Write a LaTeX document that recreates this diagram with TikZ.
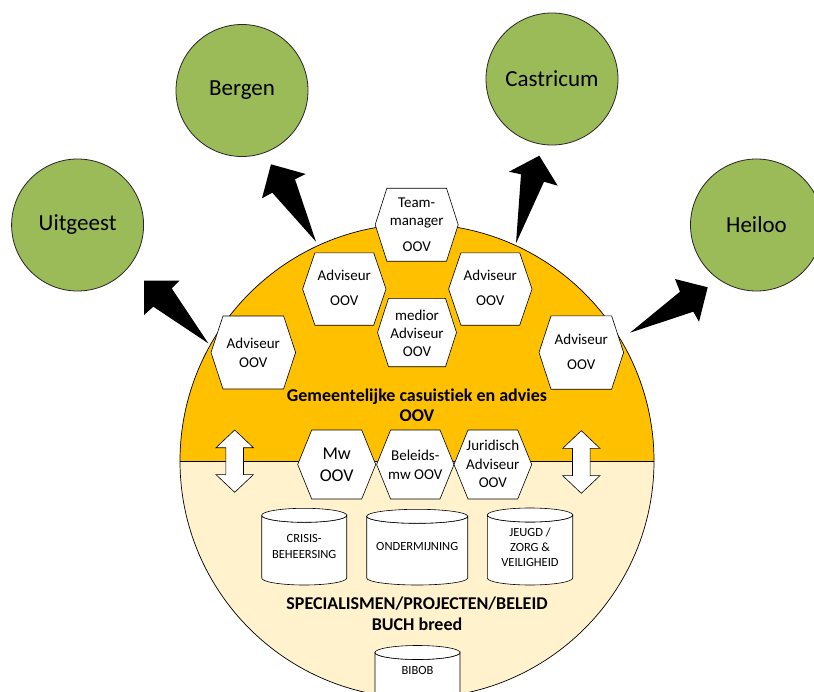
\documentclass[tikz,border=0pt]{standalone}
\usepackage{fontspec}
\setmainfont{Carlito}[Ligatures=NoCommon]
\usetikzlibrary{calc}
\definecolor{hubtop}{HTML}{FFC000}
\definecolor{hubbot}{HTML}{FFF2CC}
\definecolor{town}{HTML}{9BBB59}
\tikzset{
  hexline/.style={draw=black, fill=white, line width=0.6bp},
  hextext/.style={align=center, inner sep=0pt, font=\fontsize{15bp}{18bp}\selectfont},
  mwtext/.style={align=center, inner sep=0pt, font=\fontsize{18bp}{22bp}\selectfont},
  cylline/.style={draw=black, fill=white, line width=0.6bp},
  cyltext/.style={align=center, inner sep=0pt, font=\fontsize{12.5bp}{16bp}\selectfont},
  townnode/.style={circle, minimum size=132bp, inner sep=0pt, fill=town, draw=black!85, line width=0.8bp, font=\fontsize{23bp}{27bp}\selectfont},
  bigarrow/.style={fill=black},
  updown/.style={draw=black, fill=white, line width=0.6bp},
  boldlabel/.style={align=center, inner sep=0pt, font=\bfseries\fontsize{18bp}{20.5bp}\selectfont}
}
\newcommand\hexnode[7]{%
  \begin{scope}[shift={(#2,#3)}]
    \filldraw[hexline] (-#4,0) -- ({-#4+#6},-#5) -- ({#4-#6},-#5) -- (#4,0) -- ({#4-#6},#5) -- ({-#4+#6},#5) -- cycle;
  \end{scope}}
\newcommand\cylnode[5]{% cx, top, bottom, half width
  \filldraw[cylline] ({#1-#4},{#2+7}) -- ({#1-#4},{#3-7}) arc[start angle=180,end angle=0,x radius=#4,y radius=7] -- ({#1+#4},{#2+7}) arc[start angle=0,end angle=180,x radius=#4,y radius=7] -- cycle;
  \draw[cylline] (#1,{#2+7}) ellipse[x radius=#4, y radius=7];}
\newcommand\vbiarrow[4]{% cx, top, bottom
  \begin{scope}[shift={(#1,0)}]
  \filldraw[updown] (0,#2) -- (18.7,{#2+17.7}) -- (8.8,{#2+17.7}) -- (8.8,{#3-17.7}) -- (18.7,{#3-17.7}) -- (0,#3) -- (-18.7,{#3-17.7}) -- (-8.8,{#3-17.7}) -- (-8.8,{#2+17.7}) -- (-18.7,{#2+17.7}) -- cycle;
  \end{scope}}
\begin{document}
\begin{tikzpicture}[x=1bp,y=-1bp]
\useasboundingbox (0,0) rectangle (814,692);
\clip (0,0) rectangle (814,692);
\fill[white] (0,0) rectangle (814,692);

% hub circle
\node[circle, minimum size=474bp, inner sep=0pt, fill=hubbot] (hub) at (417,461) {};
\begin{scope}
  \clip (0,0) rectangle (814,461);
  \fill[hubtop] (hub.center) circle[radius=237];
\end{scope}
\draw[line width=0.6bp] (hub.west) -- (hub.east);
\draw[line width=0.7bp] (hub.center) circle[radius=237];

% towns
\node[townnode] (uitgeest) at (77.6,225) {Uitgeest};
\node[townnode] (bergen) at (242,90.5) {Bergen};
\node[townnode] (castricum) at (552,79) {Castricum};
\node[townnode] (heiloo) at (756.5,225) {Heiloo};

% big arrows
\fill[bigarrow] (208.3,343.3) -- (153.3,306.7) -- (144,315) -- (144,280.7) -- (179.3,280.7) -- (171.7,288.3) -- cycle;
\fill[bigarrow] (316,241.7) -- (272.3,192.7) -- (262,198.3) -- (271,164.3) -- (305.7,174) -- (295,179.3) -- cycle;
\fill[bigarrow] (516,243.3) -- (521,174.3) -- (509,171.7) -- (539.3,155.7) -- (557.7,185.7) -- (544,181.7) -- cycle;
\fill[bigarrow] (630,332.7) -- (680,291.7) -- (675,279) -- (707.7,287.3) -- (699,321.7) -- (693.3,311.7) -- cycle;

% hexagons
\hexnode{tm}{416.7}{224.7}{41.5}{36.5}{11.7}{}
\node[hextext] (tmt) at (416.7,225) {Team-\\manager\\[8bp]OOV};
\hexnode{a1}{344.3}{289}{41.7}{36.2}{12.3}{}
\node[hextext] (a1t) at (344.3,287.5) {Adviseur\\[7bp]OOV};
\hexnode{a2}{490.3}{289}{41.7}{36.2}{12.3}{}
\node[hextext] (a2t) at (490.3,287.5) {Adviseur\\[7bp]OOV};
\hexnode{md}{417}{332.5}{39.5}{34.2}{11}{}
\node[hextext] (mdt) at (417,333) {medior\\Adviseur\\OOV};
\hexnode{a3}{253.3}{352.5}{42.3}{36.5}{12}{}
\node[hextext] (a3t) at (253.3,353) {Adviseur\\[1bp]OOV};
\hexnode{a4}{581.3}{352.5}{42.3}{36.7}{12}{}
\node[hextext] (a4t) at (581.3,351.8) {Adviseur\\[7bp]OOV};

\node[boldlabel] (gem) at (417,405) {Gemeentelijke casuistiek en advies\\OOV};

\hexnode{mw}{336.7}{464.5}{39}{34.5}{14}{}
\node[mwtext] (mwt) at (336.7,464.7) {Mw\\[0.7bp]OOV};
\hexnode{bl}{415.3}{464.5}{38.7}{34.5}{14}{}
\node[hextext] (blt) at (415.3,464.5) {Beleids-\\[1bp]mw OOV};
\hexnode{jr}{492.85}{464.5}{38.85}{34.5}{14}{}
\node[hextext] (jrt) at (492.85,464.2) {Juridisch\\[0.5bp]Adviseur\\[0.5bp]OOV};

% up-down arrows
\vbiarrow{234.7}{430}{492.3}{}
\vbiarrow{581.3}{430.7}{493.3}{}

% cylinders
\cylnode{304.2}{508.3}{585}{42.5}{}
\node[cyltext] (crt) at (304.2,546.3) {CRISIS-\\BEHEERSING};
\cylnode{417.2}{509.3}{585}{50.5}{}
\node[cyltext] (ont) at (417.2,546.7) {ONDERMIJNING};
\cylnode{530}{508}{585}{42.7}{}
\node[cyltext] (jgt) at (530,546.7) {JEUGD /\\[-1bp]ZORG \&\\[-1bp]VEILIGHEID};
\cylnode{417.5}{645.5}{722}{42.5}{}
\node[cyltext] (bbt) at (417.5,670) {BIBOB};

\node[boldlabel] (spec) at (417,613.8) {SPECIALISMEN/PROJECTEN/BELEID\\BUCH breed};
\end{tikzpicture}
\end{document}
